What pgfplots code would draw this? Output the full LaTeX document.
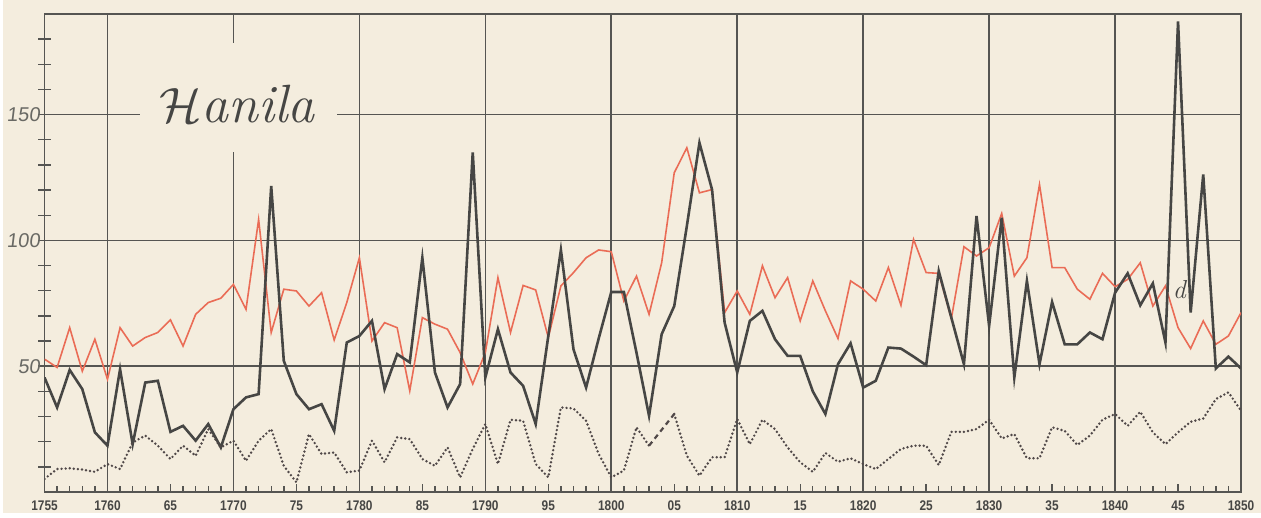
\documentclass[border=0pt]{standalone}
\usepackage{fontspec}
\usepackage{pgfplots}
\usepackage{pgfplotstable}
\pgfplotsset{compat=1.18}
\newfontfamily\labfont{Liberation Sans}[FakeSlant=0.12]
\newfontfamily\xlabfont{Liberation Sans}[FakeStretch=0.85]
\definecolor{bg}{RGB}{244,237,222}
\definecolor{birth}{RGB}{234,108,86}
\definecolor{dark}{RGB}{70,70,68}
\definecolor{dotc}{RGB}{80,72,72}
\definecolor{gridc}{RGB}{85,85,82}
\definecolor{labc}{RGB}{105,105,100}

\pgfplotstableread{
year births deaths marr
1755 52.8 45.5 5.2
1756 49.5 33.6 9.1
1757 65.3 48.5 9.4
1758 48.0 40.9 8.9
1759 60.7 23.7 8.0
1760 44.8 18.4 11.1
1761 65.3 48.8 9.1
1762 58.0 19.0 19.7
1763 61.4 43.5 22.4
1764 63.4 44.2 18.4
1765 68.4 23.9 13.1
1766 58.0 26.3 18.4
1767 70.6 20.4 14.4
1768 75.3 27.0 25.0
1769 77.0 17.7 17.7
1770 82.5 32.9 20.4
1771 72.6 37.6 12.4
1772 108.3 38.9 20.4
1773 63.4 121.6 25.0
1774 80.6 52.1 10.4
1775 79.9 38.9 3.8
1776 73.9 32.9 23.0
1777 79.2 34.9 15.1
1778 60.4 24.3 15.7
1779 75.3 59.4 7.8
1780 93.1 62.0 8.5
1781 60.0 68.0 20.4
1782 67.3 40.9 11.8
1783 65.3 54.8 21.7
1784 40.2 51.5 21.0
1785 69.3 93.1 13.1
1786 66.7 47.5 10.4
1787 64.7 33.6 17.7
1788 55.4 42.9 5.8
1789 42.9 135.0 17.1
1790 55.4 45.5 27.0
1791 85.2 64.7 11.1
1792 63.4 47.5 28.7
1793 82.1 42.2 28.3
1794 80.3 27.0 11.1
1795 61.4 62.0 5.8
1796 81.9 96.2 33.6
1797 87.2 56.7 33.2
1798 93.1 41.5 28.3
1799 96.2 61.0 15.1
1800 95.5 79.5 5.8
1801 75.9 79.5 8.5
1802 85.8 55.4 25.7
1803 70.6 30.3 18.4
1804 91.1 62.7 nan
1805 126.9 73.9 31.0
1806 136.8 105.7 14.4
1807 118.9 138.8 6.5
1808 120.2 120.2 13.8
1809 71.3 67.3 13.8
1810 79.9 47.5 29.0
1811 70.6 68.0 19.0
1812 89.9 72.0 28.7
1813 77.2 60.7 25.0
1814 85.2 54.1 17.7
1815 68.0 54.1 11.8
1816 83.9 40.0 8.0
1817 72.0 31.0 15.5
1818 61.0 50.8 12.0
1819 83.9 59.1 13.4
1820 80.6 41.5 11.1
1821 75.9 44.2 9.1
1822 89.2 57.4 13.1
1823 74.2 57.0 17.1
1824 100.4 53.8 18.4
1825 87.2 50.4 18.4
1826 86.9 87.8 10.7
1827 68.9 69.3 23.9
1828 97.5 50.8 23.9
1829 93.8 109.7 25.0
1830 97.1 66.0 28.7
1831 110.7 109.0 21.3
1832 85.8 45.5 23.0
1833 93.1 83.9 13.4
1834 122.2 50.8 13.4
1835 89.2 75.5 25.7
1836 89.2 58.7 24.3
1837 80.6 58.7 18.7
1838 76.6 63.4 22.4
1839 86.9 60.7 28.7
1840 81.6 79.2 31.0
1841 84.5 86.9 26.3
1842 91.1 74.2 31.9
1843 73.9 82.9 23.7
1844 81.9 59.4 19.0
1845 65.3 187.0 23.7
1846 57.0 71.3 27.9
1847 68.0 126.2 29.2
1848 58.7 49.1 36.9
1849 62.0 53.8 39.6
1850 71.3 49.1 32.3
}\data

\begin{document}
\begin{tikzpicture}
\fill[bg] (-21pt,-10.5pt) rectangle (609.5pt,246.5pt);
\begin{axis}[
  scale only axis, width=599.5pt, height=239.5pt,
  xmin=1755, xmax=1850, ymin=0, ymax=190,
  axis line style={gridc, line width=0.8pt},
  xtick={1755,1760,...,1850},
  xticklabels={1755,1760,65,1770,75,1780,85,1790,95,1800,05,1810,15,1820,25,1830,35,1840,45,1850},
  minor x tick num=4,
  xtick pos=bottom, xtick align=inside,
  ytick={10,20,...,180},
  yticklabels={,,,,50,,,,,100,,,,,150,,,},
  ytick pos=left, ytick align=center,
  major tick length=6.5pt, minor tick length=3pt,
  tick style={gridc, line width=0.7pt},
  xtick style={/pgfplots/major tick length=4.2pt},
  x tick label style={font=\xlabfont\bfseries\fontsize{7}{8}\selectfont, text=dark, yshift=-1pt},
  y tick label style={font=\labfont\fontsize{10}{12}\selectfont, text=labc, anchor=east, xshift=4.5pt},
  /pgf/number format/assume math mode=true,
  extra x ticks={1760,1770,...,1840}, extra x tick labels={},
  extra x tick style={grid=major, tick style={draw=none}},
  extra y ticks={50,100,150}, extra y tick labels={},
  extra y tick style={grid=major, tick style={draw=none}},
  major grid style={gridc, line width=0.8pt},
  unbounded coords=jump,
]
\fill[bg] (axis cs:1762.6,135.3) rectangle (axis cs:1778.2,178.6);
\node[anchor=base, text=dark] at (axis cs:1770.3,147) {\fontsize{27}{30}\selectfont$\mathcal{H}$\textit{anila}};
\addplot[birth, line width=0.8pt, mark=none] table[x=year,y=births]{\data};
\addplot[dark, line width=1.3pt, mark=none] table[x=year,y=deaths]{\data};
\addplot[dotc, line width=1.35pt, mark=none, line cap=round, dash pattern=on 0pt off 2.05pt] table[x=year,y=marr]{\data};
\addplot[dotc, line width=1.1pt, mark=none, dash pattern=on 2.5pt off 2pt] coordinates {(1803,18.4) (1805,31)};
\node[text=dark, font=\itshape\fontsize{13}{14}\selectfont] at (axis cs:1845.1,80.5) {d};
\end{axis}
\end{tikzpicture}
\end{document}
